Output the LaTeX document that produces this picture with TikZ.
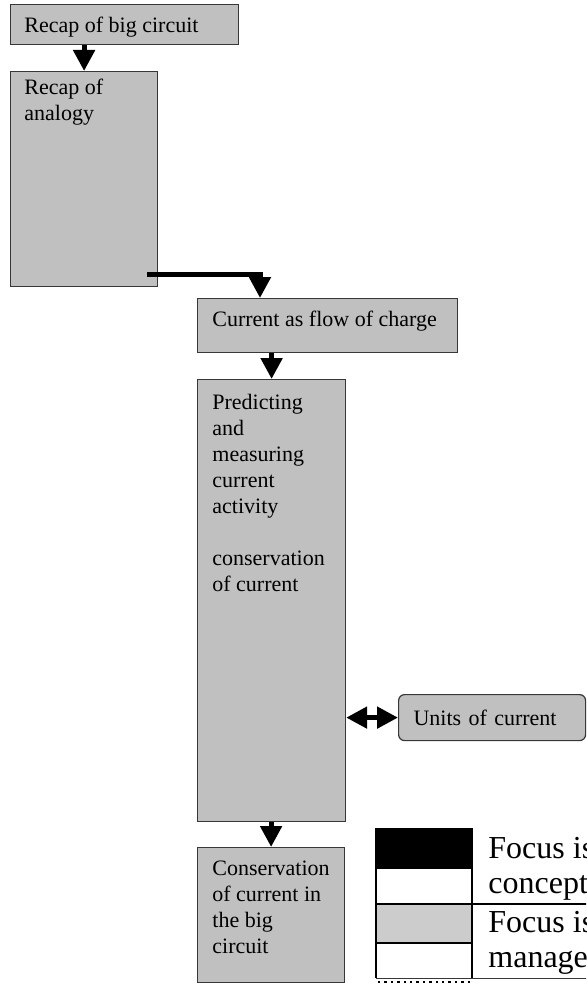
\documentclass[tikz,border=0pt]{standalone}
\usepackage{fontspec}
\setmainfont{Liberation Serif}
\usetikzlibrary{arrows.meta}
\definecolor{boxgray}{RGB}{192,192,192}
\definecolor{keygray}{RGB}{204,204,204}
\definecolor{edgegray}{RGB}{55,55,55}

\begin{document}
\begin{tikzpicture}[x=0.5pt,y=-0.5pt,
    box/.style={draw=edgegray, line width=0.6pt, fill=boxgray, anchor=north west, inner sep=0pt},
    boxtext/.style={anchor=north west, inner sep=0pt, align=left, font=\fontsize{11}{13}\selectfont},
    keytext/.style={anchor=north west, inner sep=0pt, align=left, font=\fontsize{16}{17.5}\selectfont},
    >={Triangle[width=10.5pt,length=10.5pt]},
    arrowline/.style={line width=2.5pt, ->}]
        \useasboundingbox (0,0) rectangle (586,984);
        \clip (0,0) rectangle (586,984);

        % boxes of the lesson
        \node[box, minimum width=114pt, minimum height=20pt] (bigc) at (10,4) {};
        \node[boxtext] (bigctext) at ([shift={(14,13)}]bigc.north west) {Recap of big circuit};

        \node[box, minimum width=73.5pt, minimum height=107.5pt] (analogy) at (10,71) {};
        \node[boxtext] (analogytext) at ([shift={(14,8)}]analogy.north west) {Recap of\\analogy};

        \node[box, minimum width=130pt, minimum height=27pt] (charge) at (197,298) {};
        \node[boxtext] (chargetext) at ([shift={(15,13)}]charge.north west) {Current as flow of charge};

        \node[box, minimum width=74pt, minimum height=221pt] (predict) at (197,379) {};
        \node[boxtext] (predicttext) at ([shift={(15,15)}]predict.north west)
            {Predicting\\and\\measuring\\current\\activity\\[13pt]conservation\\of current};

        \node[box, minimum width=73.5pt, minimum height=67.5pt] (conserve) at (197,847) {};
        \node[boxtext] (conservetext) at ([shift={(15,14)}]conserve.north west)
            {Conservation\\of current in\\the big\\circuit};

        \node[box, rounded corners=3pt, minimum height=23pt, text width=78.5pt, inner xsep=7.5pt,
            align=left, font=\fontsize{11}{13}\selectfont] (units) at (398,694) {Units of current};

        % arrows
        \draw[arrowline] (analogy.north |- bigc.south) -- (analogy.north);
        \draw[arrowline] ([shift={(-11,-13)}]analogy.south east) -| ([shift={(63,0)}]charge.north west);
        \draw[arrowline] (predict.north |- charge.south) -- (predict.north);
        \draw[arrowline] (conserve.north |- predict.south) -- (conserve.north);
        \draw[arrowline, <->] (predict.east |- units.west) -- (units.west);

        % key
        \fill[black] (376,828) rectangle (472,868);
        \fill[keygray] (376,904) rectangle (472,943);
        \draw[line width=0.6pt] (376,868) -- (472,868);
        \draw[line width=0.6pt] (376,943) -- (472,943);
        \draw[line width=0.6pt] (376,904) -- (600,904);
        \draw[line width=0.6pt] (376,828) -- (376,978);
        \draw[line width=0.6pt] (472,828) -- (472,978);
        \draw[line width=0.5pt, edgegray] (376,978) -- (600,978);
        \draw[line width=1.2pt, dotted] (378,982) -- (470,982);
        \node[keytext] (key1) at (488,837) {Focus is\\concept};
        \node[keytext] (key2) at (488,911) {Focus is\\manage};
    \end{tikzpicture}
\end{document}
